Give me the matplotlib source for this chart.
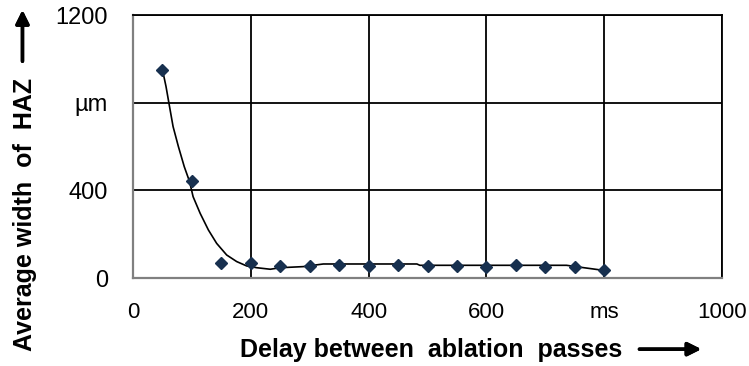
import matplotlib
matplotlib.use('Agg')
import matplotlib.pyplot as plt

# ===================== 字体 =====================
plt.rcParams['font.family'] = ['Liberation Sans', 'DejaVu Sans']
plt.rcParams['font.size'] = 16

# ===================== 数据 =====================
delay = [50, 100, 150, 200, 250, 300, 350, 400, 450, 500, 550, 600, 650, 700, 750, 800]
haz_width = [950, 444, 70, 67, 56, 56, 59, 55, 59, 55, 55, 52, 59, 49, 49, 37]

# 趋势线（从图中读取的曲线点）
trend_x = [50, 56, 62, 68, 77, 87, 96, 102, 114, 128, 142, 159, 176, 193, 210, 233,
           250, 289, 323, 436, 482, 487, 736, 760, 793, 800]
trend_y = [950, 874, 782, 691, 600, 508, 440, 371, 295, 219, 158, 105, 75, 55, 47, 40,
           47, 52, 64, 64, 64, 58, 58, 49, 37, 37]

x_ticks = [0, 200, 400, 600, 800, 1000]
x_labels = ['0', '200', '400', '600', 'ms', '1000']
y_ticks = [0, 400, 800, 1200]
y_labels = ['0', '400', 'µm', '1200']

# ===================== 绘图 =====================
fig = plt.figure(figsize=(7.49, 3.66), dpi=100)
ax = fig.add_axes([0.1776, 0.2404, 0.7864, 0.7186])

ax.plot(trend_x, trend_y, color='black', linewidth=1.2, zorder=2)
ax.plot(delay, haz_width, linestyle='none', marker='D', markersize=6,
        color='#17304f', zorder=3, clip_on=False)

ax.set_xlim(0, 1000)
ax.set_ylim(0, 1200)

ax.set_xticks(x_ticks, x_labels, fontsize=16)
ax.set_yticks(y_ticks, y_labels, fontsize=17)
ax.tick_params(axis='both', length=0)
ax.tick_params(axis='x', pad=17)
ax.tick_params(axis='y', pad=18)

ax.grid(True, color='black', linewidth=1.3)
ax.set_axisbelow(True)

for side in ['left', 'bottom']:
    ax.spines[side].set_color('#808080')
    ax.spines[side].set_linewidth(1.6)
for side in ['top', 'right']:
    ax.spines[side].set_color('black')
    ax.spines[side].set_linewidth(1.3)

# ===================== 轴标题与箭头 =====================
fig.text(0.033, 0.415, 'Average width  of  HAZ', rotation=90, ha='center', va='center',
         fontsize=18, fontweight='bold')
fig.text(0.575, 0.024, 'Delay between  ablation  passes', ha='center', va='baseline',
         fontsize=18, fontweight='bold')

arrow = dict(arrowstyle='-|>', lw=2.5, color='black', mutation_scale=20)
fig.add_artist(plt.annotate('', xy=(0.030, 0.98), xytext=(0.030, 0.825),
                            xycoords='figure fraction', arrowprops=arrow))
fig.add_artist(plt.annotate('', xy=(0.94, 0.046), xytext=(0.85, 0.046),
                            xycoords='figure fraction', arrowprops=arrow))

fig.savefig('out.png', dpi=100)
